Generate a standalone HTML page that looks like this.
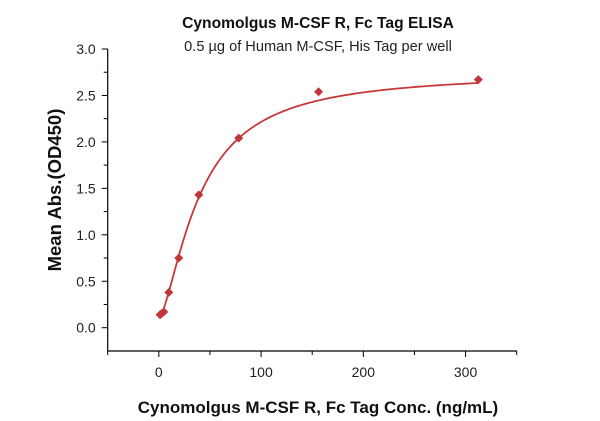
<!DOCTYPE html>
<html><head><meta charset="utf-8"><style>
body{margin:0;background:#fff;}
svg{display:block;font-family:"Liberation Sans",sans-serif;}
</style></head><body>
<svg id="chart" width="600" height="421">
<text x="318" y="28" text-anchor="middle" font-size="15.6" font-weight="bold" fill="#111">Cynomolgus M-CSF R, Fc Tag ELISA</text>
<text x="318" y="51" text-anchor="middle" font-size="14.6" fill="#222">0.5 µg of Human M-CSF, His Tag per well</text>
<text x="318" y="413" text-anchor="middle" font-size="17" font-weight="bold" fill="#111">Cynomolgus M-CSF R, Fc Tag Conc. (ng/mL)</text>
<text transform="translate(61,190) rotate(-90)" text-anchor="middle" font-size="18.5" font-weight="bold" fill="#111">Mean Abs.(OD450)</text>
<g id="axes"></g><g id="marks"></g>
</svg>
<script>
const concs=[312.5,156.25,78.1,39.1,19.5,9.77,4.88,2.44,1.22];
const absVals=[2.67,2.54,2.04,1.43,0.75,0.38,0.17,0.15,0.14];
const xTicks=[0,100,200,300];
const yTicks=[0.0,0.5,1.0,1.5,2.0,2.5,3.0];
const fitParams=[0.1,2.75,40,1.5]; // bottom, top, EC50, hill
const NS="http://www.w3.org/2000/svg";
const X0=107.7,X1=516.7,Y0=351,Y1=49;
const xs=v=>X0+(v+50)/400*(X1-X0);
const ys=v=>327.7-v*(327.7-49)/3;
function mk(t,a,p){const e=document.createElementNS(NS,t);for(const k in a)e.setAttribute(k,a[k]);p.appendChild(e);return e;}
const ax=document.getElementById('axes'),mg=document.getElementById('marks');
const yl=mk('line',{x1:X0,y1:Y0,x2:X0,y2:Y1,stroke:'#000','stroke-width':1.2},ax);


const xl=mk('line',{x1:X0,y1:Y0,x2:X1,y2:Y0,stroke:'#000','stroke-width':1.2},ax);


mk('line',{x1:X0-5,y1:Y1,x2:X0,y2:Y1,stroke:'#000'},ax);
for(let v=-50;v<=350;v+=50){const major=v%100===0;mk('line',{x1:xs(v),y1:Y0,x2:xs(v),y2:Y0+(major?6:4),stroke:'#000'},ax);}
xTicks.forEach(v=>{const t=mk('text',{x:xs(v),y:Y0+26,'text-anchor':'middle','font-size':14,fill:'#222'},ax);t.textContent=v;

});
for(let v=0;v<=3.001;v+=0.25){const major=Math.abs(v*2-Math.round(v*2))<1e-6;mk('line',{x1:X0-(major?6:4),y1:ys(v),x2:X0,y2:ys(v),stroke:'#000'},ax);}
yTicks.forEach(v=>{const t=mk('text',{x:X0-12,y:ys(v)+5,'text-anchor':'end','font-size':14,fill:'#222'},ax);t.textContent=v.toFixed(1);

});
const [b,tp,ec,h]=fitParams;
let d='';for(let i=0;i<=300;i++){const c=Math.exp(Math.log(1.5)+i/300*(Math.log(312.5)-Math.log(1.5)));const y=b+(tp-b)/(1+Math.pow(ec/c,h));d+=(i?'L':'M')+xs(c).toFixed(2)+','+ys(y).toFixed(2);}
const curve=mk('path',{d:d,fill:'none',stroke:'#c8383a','stroke-width':1.8},mg);


concs.forEach((c,i)=>{const x=xs(c),y=ys(absVals[i]);const p=mk('polygon',{points:`${x},${y-4.5} ${x+4.5},${y} ${x},${y+4.5} ${x-4.5},${y}`,fill:'#c0373a'},mg);

});
</script>
</body></html>
